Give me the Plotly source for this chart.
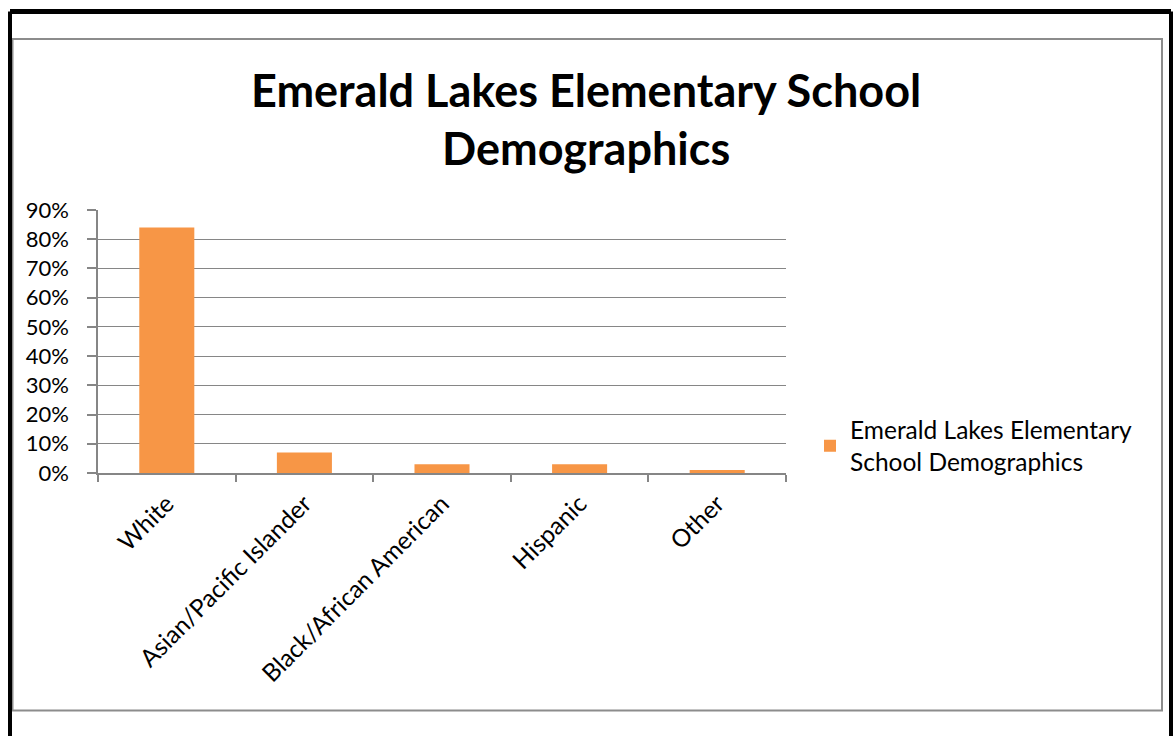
import plotly.graph_objects as go

categories = ["White", "Asian/Pacific Islander", "Black/African American", "Hispanic", "Other"]
values = [0.84, 0.07, 0.03, 0.03, 0.01]
series_name = "Emerald Lakes Elementary<br>School Demographics"
title_lines = ["Emerald Lakes Elementary School", "Demographics"]
y_ticks = [0, 0.1, 0.2, 0.3, 0.4, 0.5, 0.6, 0.7, 0.8, 0.9]

FONT = "Lato"
W, H = 1173, 736
ML, MR, MT, MB = 98, 387, 210, 263
PW, PH = W - ML - MR, H - MT - MB

def px(x):
    return (x - ML) / PW

def py(y):
    return (H - MB - y) / PH

fig = go.Figure()
fig.add_trace(go.Bar(
    x=categories, y=values, name=series_name,
    marker=dict(color="#F79646", line=dict(width=0)),
    showlegend=True,
))

shapes = [
    dict(type="rect", xref="paper", yref="paper",
         x0=px(12.5), x1=px(1162), y0=py(710.5), y1=py(39),
         line=dict(color="#8c8c8c", width=2), fillcolor="rgba(0,0,0,0)", layer="below"),
    dict(type="line", xref="paper", yref="paper", x0=px(10), x1=px(1171), y0=py(11.5), y1=py(11.5),
         line=dict(color="black", width=5)),
    dict(type="line", xref="paper", yref="paper", x0=px(10), x1=px(10), y0=py(11.5), y1=py(740),
         line=dict(color="black", width=4)),
    dict(type="line", xref="paper", yref="paper", x0=px(1171), x1=px(1171), y0=py(11.5), y1=py(740),
         line=dict(color="black", width=4)),
]

annotations = [
    dict(text="<b>%s</b>" % title_lines[0], xref="paper", yref="paper", x=px(586), y=py(90),
         xanchor="center", yanchor="middle", showarrow=False,
         font=dict(family=FONT, size=45, color="black")),
    dict(text="<b>%s</b>" % title_lines[1], xref="paper", yref="paper", x=px(586), y=py(148),
         xanchor="center", yanchor="middle", showarrow=False,
         font=dict(family=FONT, size=45, color="black")),
]

fig.update_layout(
    width=W, height=H,
    margin=dict(l=ML, r=MR, t=MT, b=MB, pad=0),
    paper_bgcolor="white", plot_bgcolor="white",
    font=dict(family=FONT, size=24, color="black"),
    bargap=0.6,
    shapes=shapes,
    annotations=annotations,
    legend=dict(x=px(810), y=py(446), xanchor="left", yanchor="middle",
                font=dict(family=FONT, size=24.5, color="black"),
                bgcolor="rgba(0,0,0,0)", itemwidth=30, tracegroupgap=0),
    showlegend=True,
)
fig.update_xaxes(
    showline=True, linecolor="#868686", linewidth=1.5,
    ticks="outside", tickson="boundaries", ticklen=7, tickcolor="#868686", tickwidth=1.5,
    tickangle=-45, showgrid=False, ticklabelstandoff=5,
    tickfont=dict(family=FONT, size=24.5, color="black"),
)
fig.update_yaxes(
    range=[0, 0.9], tickvals=y_ticks, tickformat=".0%",
    showline=True, linecolor="#868686", linewidth=1.5,
    ticks="outside", ticklen=9, tickcolor="#868686", tickwidth=1.5,
    showgrid=True, gridcolor="#868686", gridwidth=1.2,
    zeroline=False, ticklabelstandoff=14,
    tickfont=dict(family=FONT, size=22, color="black"),
)

fig.write_html("out.html")
